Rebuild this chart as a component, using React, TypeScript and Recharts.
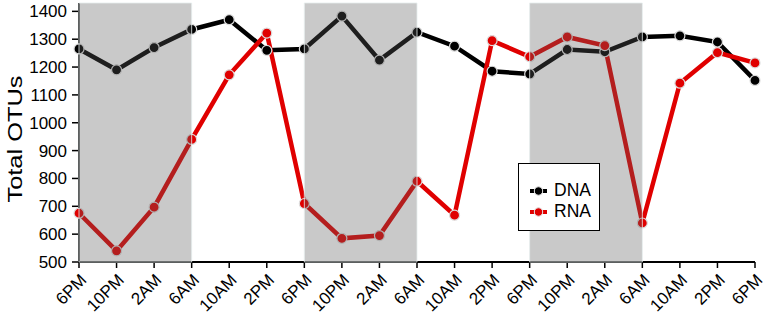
import { LineChart, Line, XAxis, YAxis, ReferenceArea, Label } from "recharts";

const timeLabels = [
  "6PM", "10PM", "2AM", "6AM", "10AM", "2PM",
  "6PM", "10PM", "2AM", "6AM", "10AM", "2PM",
  "6PM", "10PM", "2AM", "6AM", "10AM", "2PM", "6PM",
];
const dnaValues = [1265, 1190, 1270, 1335, 1370, 1260, 1265, 1383, 1225, 1325, 1275, 1185, 1175, 1263, 1255, 1308, 1312, 1290, 1152];
const rnaValues = [675, 540, 697, 940, 1172, 1322, 710, 585, 595, 790, 668, 1295, 1237, 1308, 1277, 640, 1142, 1252, 1215];
const yTicks = [500, 600, 700, 800, 900, 1000, 1100, 1200, 1300, 1400];
const nightStart = [0, 6, 12];
const nightEnd = [3, 9, 15];

const FONT = "'Liberation Sans', Arial, Helvetica, sans-serif";
const RED = "#e00000";

const data = timeLabels.map((label, i) => ({ i, label, DNA: dnaValues[i], RNA: rnaValues[i] }));
const xTicks = timeLabels.map((_, i) => i);

function TimeTick(props: any) {
  const { x, y, payload } = props;
  const ax = x + 8.5;
  const ay = y + 11;
  return (
    <text x={ax} y={ay} transform={`rotate(-45 ${ax} ${ay})`} textAnchor="end" fontSize={17} fontFamily={FONT} fill="#000">
      {timeLabels[payload.value]}
    </text>
  );
}

// legend sits over the plot, so it is drawn outside the chart's layout
function LegendBox() {
  const items = [
    { name: "DNA", color: "#000" },
    { name: "RNA", color: RED },
  ];
  return (
    <div
      style={{
        position: "absolute",
        left: 518,
        top: 163,
        width: 82,
        height: 68,
        border: "1.5px solid #000",
        background: "#fff",
        boxSizing: "border-box",
        paddingTop: 16,
        paddingLeft: 10,
        fontFamily: FONT,
        fontSize: 17.5,
        lineHeight: "21px",
      }}
    >
      {items.map((it) => (
        <div key={it.name} style={{ display: "flex", alignItems: "center" }}>
          <svg width={24} height={12} style={{ marginRight: 1 }}>
            <line x1={1} y1={6} x2={18} y2={6} stroke={it.color} strokeWidth={4} strokeDasharray="4 2.5" />
            <circle cx={9.5} cy={6} r={4.2} fill={it.color} stroke="#ddd" strokeWidth={1} />
          </svg>
          <span>{it.name}</span>
        </div>
      ))}
    </div>
  );
}

export default function App() {
  return (
    <div style={{ position: "absolute", left: 0, top: 0, width: 765, height: 314, background: "#fff" }}>
      <LineChart width={765} height={314} data={data} margin={{ top: 3, right: 10, bottom: 0, left: 0 }}>
        <XAxis
          dataKey="i"
          type="number"
          domain={[0, 18]}
          ticks={xTicks}
          interval={0}
          height={52}
          tick={<TimeTick />}
          tickSize={6}
          axisLine={{ stroke: "#000", strokeWidth: 2 }}
          tickLine={{ stroke: "#000", strokeWidth: 1.5 }}
        />
        <YAxis
          type="number"
          domain={[500, 1430]}
          ticks={yTicks}
          interval={0}
          width={79}
          tickSize={7}
          tickMargin={5}
          tick={{ fontSize: 17, fill: "#000", fontFamily: FONT }}
          axisLine={{ stroke: "#000", strokeWidth: 2 }}
          tickLine={{ stroke: "#000", strokeWidth: 1.5 }}
        >
          <Label
            content={() => (
              <text
                x={22}
                y={139}
                transform="rotate(-90 22 139)"
                textAnchor="middle"
                fontSize={20}
                fontFamily={FONT}
                fill="#000"
                textLength={127}
                lengthAdjust="spacingAndGlyphs"
              >
                Total OTUs
              </text>
            )}
          />
        </YAxis>
        <Line
          dataKey="DNA"
          stroke="#000"
          strokeWidth={4.5}
          dot={{ r: 5, fill: "#000", stroke: "#ddd", strokeWidth: 1.2 }}
          isAnimationActive={false}
        />
        <Line
          dataKey="RNA"
          stroke={RED}
          strokeWidth={4.5}
          dot={{ r: 5, fill: RED, stroke: "#ddd", strokeWidth: 1.2 }}
          isAnimationActive={false}
        />
        {nightStart.map((s, k) => (
          <ReferenceArea
            key={k}
            x1={s}
            x2={nightEnd[k]}
            y1={500}
            y2={1430}
            fill="rgb(90,90,90)"
            fillOpacity={0.33}
            stroke="#e6eeee"
            strokeWidth={1}
            strokeOpacity={0.8}
            zIndex={2000}
          />
        ))}
      </LineChart>
      <LegendBox />
    </div>
  );
}
